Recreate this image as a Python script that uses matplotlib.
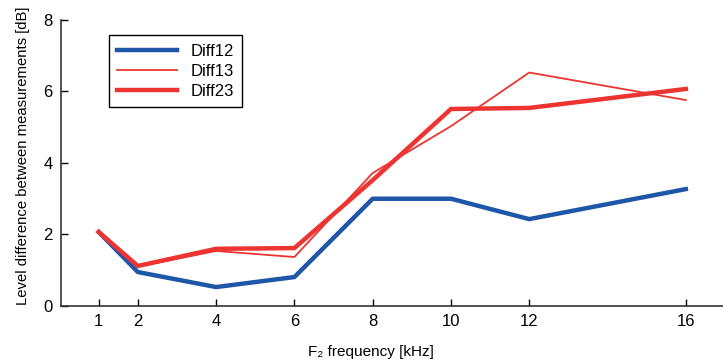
import matplotlib
matplotlib.use("Agg")
import matplotlib.pyplot as plt

plt.rcParams['font.family'] = ['Liberation Sans', 'DejaVu Sans']

freqs = [1, 2, 4, 6, 8, 10, 12, 16]
diff12 = [2.07, 0.95, 0.53, 0.81, 3.0, 3.0, 2.43, 3.27]
diff13 = [2.05, 1.1, 1.54, 1.37, 3.72, 5.03, 6.53, 5.76]
diff23 = [2.07, 1.12, 1.6, 1.62, 3.52, 5.51, 5.54, 6.07]

blue = '#1f57a8'
red = '#ee3430'

fig = plt.figure(figsize=(7.23, 3.63), dpi=100)
ax = fig.add_axes([0.084, 0.157, 0.916, 0.788])

ax.plot(freqs, diff12, color=blue, lw=3.2, label='Diff12')
ax.plot(freqs, diff13, color=red, lw=1.3, label='Diff13')
ax.plot(freqs, diff23, color=red, lw=3.2, label='Diff23')

ax.set_xlim(0.03, 16.95)
ax.set_ylim(0, 8)
ax.set_xticks(freqs)
ax.set_yticks([0, 2, 4, 6, 8])
ax.tick_params(direction='in', labelsize=12, length=5, width=1, pad=6)
for s in ['top', 'right']:
    ax.spines[s].set_visible(False)
for s in ['left', 'bottom']:
    ax.spines[s].set_linewidth(1.2)
    ax.spines[s].set_color('#333333')

ax.set_xlabel('F\u2082 frequency [kHz]', fontsize=11)
ax.xaxis.set_label_coords(0.468, -0.135)
ax.set_ylabel('Level difference between measurements [dB]', fontsize=10.7)
ax.yaxis.set_label_coords(-0.047, 0.525)

leg = ax.legend(loc='upper left', bbox_to_anchor=(0.06, 0.975), fontsize=12,
                fancybox=False, edgecolor='black', framealpha=1,
                handlelength=3.6, borderpad=0.5, labelspacing=0.3)
leg.get_frame().set_linewidth(1.0)

fig.savefig('out.png', dpi=100)
